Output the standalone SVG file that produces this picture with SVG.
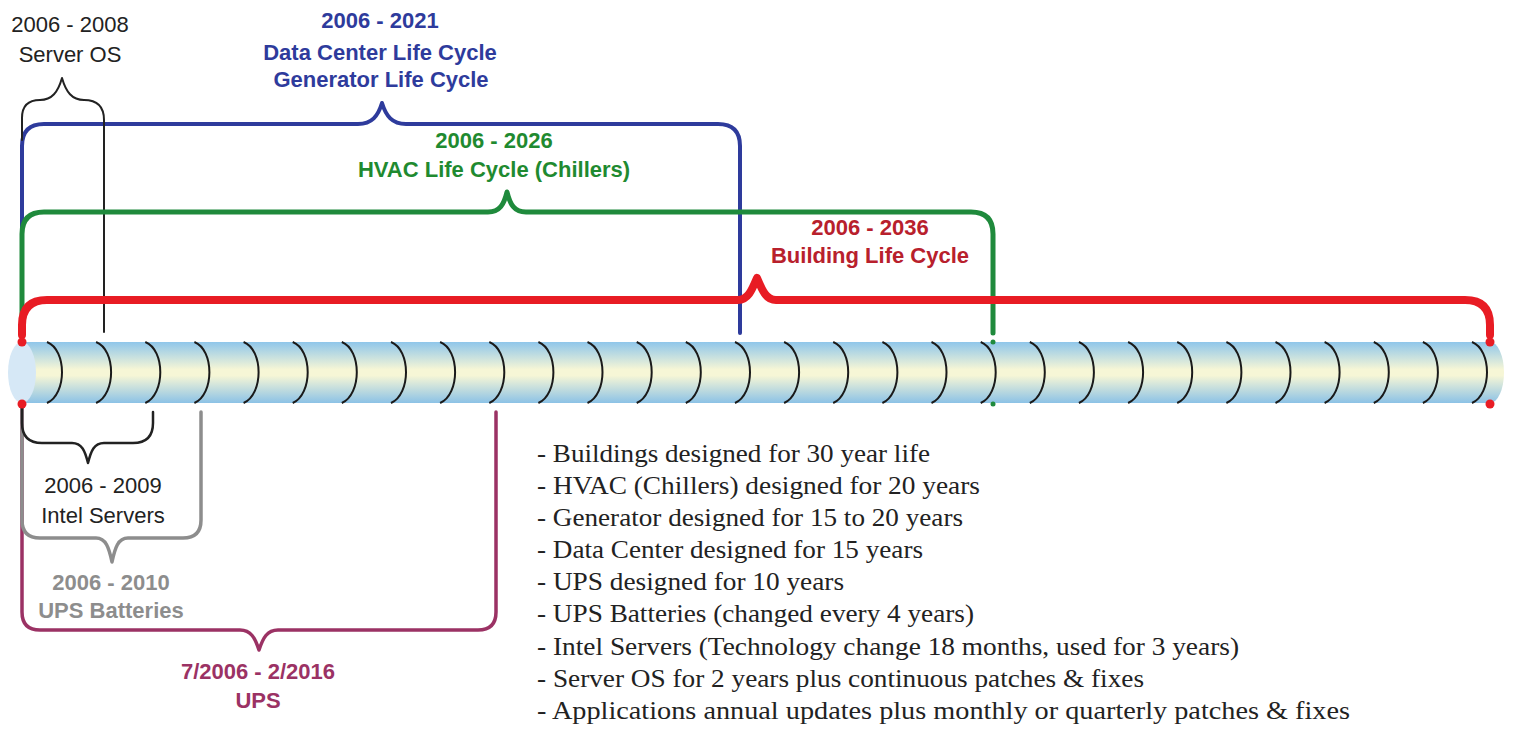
<svg xmlns="http://www.w3.org/2000/svg" width="1513" height="729" viewBox="0 0 1513 729">
<defs>
<linearGradient id="tubeGrad" x1="0" y1="0" x2="0" y2="1">
<stop offset="0" stop-color="#8fc6ea"/>
<stop offset="0.45" stop-color="#f6f6d6"/>
<stop offset="0.55" stop-color="#f6f6d6"/>
<stop offset="1" stop-color="#8cc2e6"/>
</linearGradient>
</defs>
<style>
.lbl{font-family:"Liberation Sans",Arial,sans-serif;font-size:22px;text-anchor:middle}
.b{font-weight:bold}
.note{font-family:"Liberation Serif","Times New Roman",serif;font-size:25px;fill:#222}
.arc{fill:none;stroke:#1a1a1a;stroke-width:2}
.ln{fill:none;stroke-linecap:round;stroke-linejoin:round}
</style>
<rect width="1513" height="729" fill="#ffffff"/>

<g id="tube">
<rect x="22" y="342" width="1468" height="61" fill="url(#tubeGrad)"/>
<ellipse cx="1490" cy="372.5" rx="14" ry="30.5" fill="url(#tubeGrad)"/>
<ellipse cx="22" cy="372.5" rx="14" ry="30.5" fill="#d6e8f6"/>
<g id="year-rings">
<path class="arc" d="M47,342 C67,350 67,394 47,403"/>
<path class="arc" d="M96.1,342 C116.1,350 116.1,394 96.1,403"/>
<path class="arc" d="M145.3,342 C165.3,350 165.3,394 145.3,403"/>
<path class="arc" d="M194.4,342 C214.4,350 214.4,394 194.4,403"/>
<path class="arc" d="M243.6,342 C263.6,350 263.6,394 243.6,403"/>
<path class="arc" d="M292.7,342 C312.7,350 312.7,394 292.7,403"/>
<path class="arc" d="M341.8,342 C361.8,350 361.8,394 341.8,403"/>
<path class="arc" d="M391,342 C411,350 411,394 391,403"/>
<path class="arc" d="M440.1,342 C460.1,350 460.1,394 440.1,403"/>
<path class="arc" d="M489.3,342 C509.3,350 509.3,394 489.3,403"/>
<path class="arc" d="M538.4,342 C558.4,350 558.4,394 538.4,403"/>
<path class="arc" d="M587.5,342 C607.5,350 607.5,394 587.5,403"/>
<path class="arc" d="M636.7,342 C656.7,350 656.7,394 636.7,403"/>
<path class="arc" d="M685.8,342 C705.8,350 705.8,394 685.8,403"/>
<path class="arc" d="M735,342 C755,350 755,394 735,403"/>
<path class="arc" d="M784.1,342 C804.1,350 804.1,394 784.1,403"/>
<path class="arc" d="M833.2,342 C853.2,350 853.2,394 833.2,403"/>
<path class="arc" d="M882.4,342 C902.4,350 902.4,394 882.4,403"/>
<path class="arc" d="M931.5,342 C951.5,350 951.5,394 931.5,403"/>
<path class="arc" d="M980.7,342 C1000.7,350 1000.7,394 980.7,403"/>
<path class="arc" d="M1029.8,342 C1049.8,350 1049.8,394 1029.8,403"/>
<path class="arc" d="M1078.9,342 C1098.9,350 1098.9,394 1078.9,403"/>
<path class="arc" d="M1128.1,342 C1148.1,350 1148.1,394 1128.1,403"/>
<path class="arc" d="M1177.2,342 C1197.2,350 1197.2,394 1177.2,403"/>
<path class="arc" d="M1226.4,342 C1246.4,350 1246.4,394 1226.4,403"/>
<path class="arc" d="M1275.5,342 C1295.5,350 1295.5,394 1275.5,403"/>
<path class="arc" d="M1324.6,342 C1344.6,350 1344.6,394 1324.6,403"/>
<path class="arc" d="M1373.8,342 C1393.8,350 1393.8,394 1373.8,403"/>
<path class="arc" d="M1422.9,342 C1442.9,350 1442.9,394 1422.9,403"/>
<path class="arc" d="M1472,342 C1492,350 1492,394 1472,403"/>
</g>
</g>

<g id="connectors">
<path id="ups" class="ln" stroke="#9b3264" stroke-width="3.5" d="M22,405 L22,612 Q22,630 40,630 L240,630 C251,630 255,638 259,650 C263,638 267,630 278,630 L478,630 Q496,630 496,612 L496,412"/>
<path id="ups-batteries" class="ln" stroke="#8d8d8d" stroke-width="3.5" d="M22,405 L22,520 Q22,538 40,538 L96,538 C106,538 109,548 112,562 C115,548 118,538 128,538 L183,538 Q201,538 201,520 L201,412"/>
<path id="intel-servers" class="ln" stroke="#222" stroke-width="2.5" d="M22,405 L22,423 Q22,443 42,443 L72,443 C82,443 85,451 88,463 C91,451 94,443 104,443 L133,443 Q153,443 153,423 L153,412"/>
<path id="data-center" class="ln" stroke="#2e3b9c" stroke-width="4" d="M22,332 L22,146 Q22,124 44,124 L358,124 C372,124 378,116 382,103 C386,116 392,124 406,124 L718,124 Q740,124 740,146 L740,333"/>
<path id="server-os" class="ln" stroke="#222" stroke-width="2" d="M22,140 L22,118 Q22,100 40,100 C52,100 58,92 62,78 C66,92 72,100 84,100 Q104,100 104,120 L104,332"/>
<path id="hvac" class="ln" stroke="#1f8a3c" stroke-width="5" d="M22,332 L22,234 Q22,212 44,212 L488,212 C500,212 504,204 507,192 C510,204 514,212 526,212 L971,212 Q993,212 993,234 L993,333"/>
<path id="building" class="ln" stroke="#e81c24" stroke-width="8" d="M22,335 L22,325 Q22,300 47,300 L738,300 C748,300 752,290 757,278 C762,290 766,300 776,300 L1465,300 Q1490,300 1490,325 L1490,335"/>
<circle cx="22" cy="342" r="4.5" fill="#e81c24"/>
<circle cx="22" cy="404" r="4.5" fill="#e81c24"/>
<circle cx="1490" cy="342" r="4.5" fill="#e81c24"/>
<circle cx="1490" cy="404" r="4.5" fill="#e81c24"/>
<circle cx="993" cy="342" r="2.5" fill="#1f8a3c"/>
<circle cx="993" cy="404" r="2.5" fill="#1f8a3c"/>
</g>

<g id="label-server-os" class="lbl" fill="#222">
<text x="70" y="32">2006 - 2008</text>
<text x="70" y="62">Server OS</text>
</g>
<g id="label-data-center" class="lbl b" fill="#2e3b9c">
<text x="380" y="28">2006 - 2021</text>
<text x="380" y="60">Data Center Life Cycle</text>
<text x="381" y="87">Generator Life Cycle</text>
</g>
<g id="label-hvac" class="lbl b" fill="#1f8a30">
<text x="494" y="148">2006 - 2026</text>
<text x="494" y="177">HVAC Life Cycle (Chillers)</text>
</g>
<g id="label-building" class="lbl b" fill="#b8202c">
<text x="870" y="235">2006 - 2036</text>
<text x="870" y="263">Building Life Cycle</text>
</g>
<g id="label-intel" class="lbl" fill="#222">
<text x="103" y="493">2006 - 2009</text>
<text x="103" y="523">Intel Servers</text>
</g>
<g id="label-ups-batteries" class="lbl b" fill="#8d8d8d">
<text x="111" y="590">2006 - 2010</text>
<text x="111" y="618">UPS Batteries</text>
</g>
<g id="label-ups" class="lbl b" fill="#9b3264">
<text x="258" y="679">7/2006 - 2/2016</text>
<text x="258" y="708">UPS</text>
</g>

<g id="notes" class="note">
<text x="537" y="462" textLength="393" lengthAdjust="spacingAndGlyphs">- Buildings designed for 30 year life</text>
<text x="537" y="494" textLength="443" lengthAdjust="spacingAndGlyphs">- HVAC (Chillers) designed for 20 years</text>
<text x="537" y="526" textLength="426" lengthAdjust="spacingAndGlyphs">- Generator designed for 15 to 20 years</text>
<text x="537" y="558" textLength="386" lengthAdjust="spacingAndGlyphs">- Data Center designed for 15 years</text>
<text x="537" y="590" textLength="307" lengthAdjust="spacingAndGlyphs">- UPS designed for 10 years</text>
<text x="537" y="622" textLength="437" lengthAdjust="spacingAndGlyphs">- UPS Batteries (changed every 4 years)</text>
<text x="537" y="655" textLength="702" lengthAdjust="spacingAndGlyphs">- Intel Servers (Technology change 18 months, used for 3 years)</text>
<text x="537" y="687" textLength="607" lengthAdjust="spacingAndGlyphs">- Server OS for 2 years plus continuous patches &amp; fixes</text>
<text x="537" y="719" textLength="813" lengthAdjust="spacingAndGlyphs">- Applications annual updates plus monthly or quarterly patches &amp; fixes</text>
</g>
</svg>
